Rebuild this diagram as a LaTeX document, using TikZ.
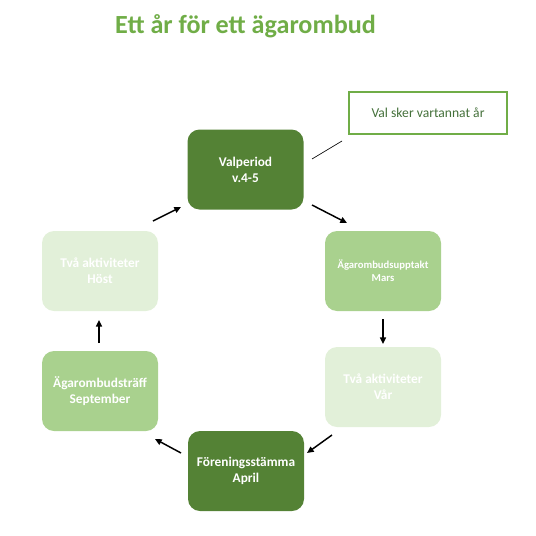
\documentclass[tikz,border=0pt]{standalone}
\usepackage{fontspec}
\setmainfont{Carlito}
\usetikzlibrary{arrows.meta}
\definecolor{dkgreen}{HTML}{548235}
\definecolor{mdgreen}{HTML}{A9D18E}
\definecolor{ltgreen}{HTML}{E2F0D9}
\definecolor{ttgreen}{HTML}{70AD47}
\definecolor{txgreen}{HTML}{44703A}
\begin{document}
\begin{tikzpicture}[x=0.75pt,y=-0.75pt,
  box/.style={rounded corners=9pt, minimum width=87pt, minimum height=60pt, inner sep=0pt, text=white, align=center, font=\fontsize{10pt}{11.8pt}\selectfont\bfseries},
  dark/.style={box, fill=dkgreen},
  mid/.style={box, fill=mdgreen},
  light/.style={box, fill=ltgreen},
  arr/.style={-{Triangle[length=5pt,width=4.5pt]}, line width=1.1pt, black}]
\useasboundingbox (0,0) rectangle (536,536);
\node[font=\fontsize{19.6pt}{22pt}\selectfont\bfseries, text=ttgreen] (title) at (245.5,26) {Ett år för ett ägarombud};
\node[dark] (val) at (245.5,169.5) {Valperiod\\v.4-5};
\node[mid, font=\fontsize{8pt}{10pt}\selectfont\bfseries] (upp) at (383,271) {Ägarombudsupptakt\\Mars};
\node[light] (var) at (383,387) {Två aktiviteter\\Vår};
\node[dark] (for) at (246,471) {Föreningsstämma\\April};
\node[mid] (traff) at (100,391) {Ägarombudsträff\\September};
\node[light] (host) at (100,271) {Två aktiviteter\\Höst};
\node[draw=ttgreen, line width=0.8pt, minimum width=118.5pt, minimum height=31.5pt, inner sep=0pt, text=txgreen, font=\fontsize{10.2pt}{12pt}\selectfont] (note) at (428,113) {Val sker vartannat år};
\coordinate (n1) at (312,159);
\coordinate (n2) at (342,141);
\draw[line width=0.5pt] (n1) -- (n2);
\coordinate (a1) at (312,205); \coordinate (a2) at (347,223);
\coordinate (b1) at (383,319); \coordinate (b2) at (383,344);
\coordinate (c1) at (332,435); \coordinate (c2) at (307,453);
\coordinate (d1) at (181,453); \coordinate (d2) at (155,439);
\coordinate (e1) at (99,343); \coordinate (e2) at (99,320);
\coordinate (f1) at (153,221); \coordinate (f2) at (181,207);
\draw[arr] (a1) -- (a2);
\draw[arr] (b1) -- (b2);
\draw[arr] (c1) -- (c2);
\draw[arr] (d1) -- (d2);
\draw[arr] (e1) -- (e2);
\draw[arr] (f1) -- (f2);
\end{tikzpicture}
\end{document}
